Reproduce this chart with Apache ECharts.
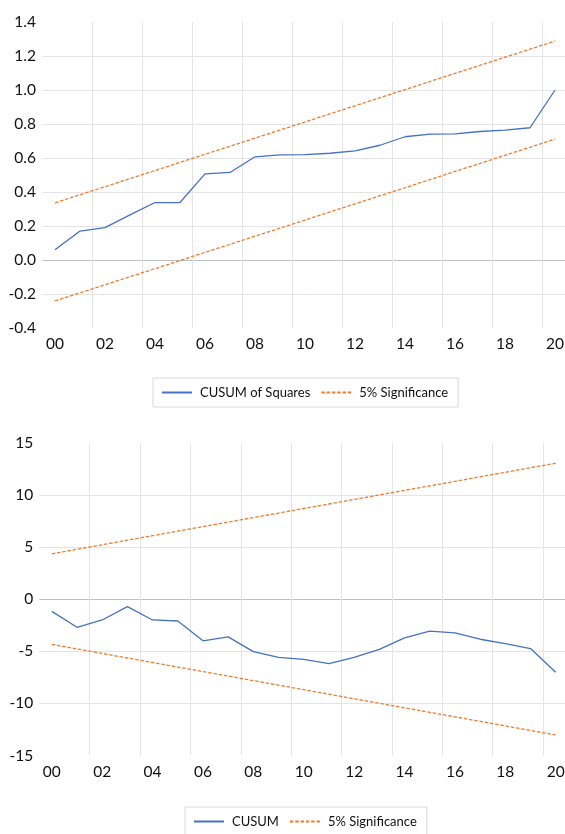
<!DOCTYPE html>
<html>
<head>
<meta charset="utf-8">
<script src="https://cdn.jsdelivr.net/npm/echarts@6/dist/echarts.min.js"></script>
<style>
html,body{margin:0;padding:0;background:#fff;overflow:hidden;}
#c{width:565px;height:834px;}
</style>
</head>
<body>
<div id="c"></div>
<script>
const years = ['00','01','02','03','04','05','06','07','08','09','10','11','12','13','14','15','16','17','18','19','20'];

const cusumSq = [0.06, 0.17, 0.19, 0.265, 0.338, 0.338, 0.507, 0.515, 0.607, 0.618, 0.620, 0.628, 0.642, 0.675, 0.725, 0.741, 0.742, 0.756, 0.764, 0.778, 1.0];
const sqUpper = [0.336, 0.384, 0.431, 0.479, 0.526, 0.574, 0.622, 0.669, 0.717, 0.764, 0.812, 0.860, 0.907, 0.955, 1.002, 1.050, 1.098, 1.145, 1.193, 1.240, 1.288];
const sqLower = [-0.241, -0.193, -0.146, -0.098, -0.051, -0.003, 0.045, 0.092, 0.140, 0.187, 0.235, 0.283, 0.330, 0.378, 0.425, 0.473, 0.521, 0.568, 0.616, 0.663, 0.711];

const cusum = [-1.18, -2.70, -2.0, -0.72, -2.0, -2.1, -4.0, -3.62, -5.04, -5.58, -5.78, -6.18, -5.6, -4.82, -3.72, -3.08, -3.24, -3.85, -4.26, -4.74, -7.02];
const cuUpper = [4.34, 4.78, 5.21, 5.65, 6.08, 6.52, 6.95, 7.38, 7.82, 8.25, 8.69, 9.12, 9.56, 9.99, 10.43, 10.86, 11.29, 11.73, 12.16, 12.60, 13.03];
const cuLower = [-4.34, -4.78, -5.21, -5.65, -6.08, -6.52, -6.95, -7.38, -7.82, -8.25, -8.69, -9.12, -9.56, -9.99, -10.43, -10.86, -11.29, -11.73, -12.16, -12.60, -13.03];

const FONT = "Lato, 'Open Sans', sans-serif";
const BLUE = '#4472C4';
const ORANGE = '#ED7D31';
const GRID = '#e4e4e4';
const ZERO = '#bfbfbf';
const TR = 'rgba(0,0,0,0)';
const DASH = [3.5, 1.8];

function xAxisCfg(gridIndex, margin) {
  return {
    type: 'category', gridIndex: gridIndex, data: years, boundaryGap: true,
    axisLine: {show: false}, axisTick: {show: false},
    axisLabel: {interval: 1, color: '#111', fontFamily: FONT, fontSize: 15.5, margin: margin},
    splitLine: {show: true, interval: function (i) { return i > 0 && i % 2 === 0; },
      lineStyle: {color: GRID, width: 1}}
  };
}

function legendCfg(left, top, names) {
  return {
    left: left, top: top, orient: 'horizontal',
    data: names,
    itemWidth: 30, itemHeight: 14, itemGap: 10,
    padding: [8, 10, 8, 8],
    borderColor: '#d9d9d9', borderWidth: 1,
    itemStyle: {opacity: 0},
    formatter: function (n) { return n.trim(); },
    textStyle: {fontFamily: FONT, fontSize: 13, color: '#111', padding: [0, 0, 0, 3]}
  };
}

const chart = echarts.init(document.getElementById('c'), null, {renderer: 'canvas'});
chart.setOption({
  animation: false,
  backgroundColor: '#fff',
  grid: [
    {left: 42.5, width: 525, top: 22, height: 306, containLabel: false, outerBoundsMode: 'none'},
    {left: 39.2, width: 529.1, top: 442.7, height: 312.8, containLabel: false, outerBoundsMode: 'none'}
  ],
  legend: [
    legendCfg(153, 378, ['CUSUM of Squares', '5% Significance']),
    legendCfg(185, 807, ['CUSUM', '5% Significance '])
  ],
  xAxis: [xAxisCfg(0, 7.5), xAxisCfg(1, 8.5)],
  yAxis: [
    {
      type: 'value', gridIndex: 0, min: -0.4, max: 1.4, interval: 0.2,
      axisLine: {show: false}, axisTick: {show: false},
      axisLabel: {color: '#111', fontFamily: FONT, fontSize: 15.5, margin: 6.5, padding: [0, 0, 6, 0],
        formatter: function (v) { return v.toFixed(1); }},
      splitLine: {lineStyle: {width: 1, color: [TR, GRID, ZERO, GRID, GRID, GRID, GRID, GRID, GRID, TR]}}
    },
    {
      type: 'value', gridIndex: 1, min: -15, max: 15, interval: 5,
      axisLine: {show: false}, axisTick: {show: false},
      axisLabel: {color: '#111', fontFamily: FONT, fontSize: 15.5, margin: 6, padding: [0, 0, 4, 0]},
      splitLine: {lineStyle: {width: 1, color: [TR, GRID, GRID, ZERO, GRID, GRID, TR]}}
    }
  ],
  series: [
    {name: 'CUSUM of Squares', type: 'line', xAxisIndex: 0, yAxisIndex: 0, data: cusumSq,
      symbol: 'none', lineStyle: {color: BLUE, width: 1.3}, itemStyle: {color: BLUE}, z: 5},
    {name: '5% Significance', type: 'line', xAxisIndex: 0, yAxisIndex: 0, data: sqUpper,
      symbol: 'none', lineStyle: {color: ORANGE, width: 1.3, type: DASH}, itemStyle: {color: ORANGE}, z: 4},
    {name: '5% Significance', type: 'line', xAxisIndex: 0, yAxisIndex: 0, data: sqLower,
      symbol: 'none', lineStyle: {color: ORANGE, width: 1.3, type: DASH}, itemStyle: {color: ORANGE}, z: 4},
    {name: 'CUSUM', type: 'line', xAxisIndex: 1, yAxisIndex: 1, data: cusum,
      symbol: 'none', lineStyle: {color: BLUE, width: 1.3}, itemStyle: {color: BLUE}, z: 5},
    {name: '5% Significance ', type: 'line', xAxisIndex: 1, yAxisIndex: 1, data: cuUpper,
      symbol: 'none', lineStyle: {color: ORANGE, width: 1.3, type: DASH}, itemStyle: {color: ORANGE}, z: 4},
    {name: '5% Significance ', type: 'line', xAxisIndex: 1, yAxisIndex: 1, data: cuLower,
      symbol: 'none', lineStyle: {color: ORANGE, width: 1.3, type: DASH}, itemStyle: {color: ORANGE}, z: 4}
  ]
});
</script>
</body>
</html>
